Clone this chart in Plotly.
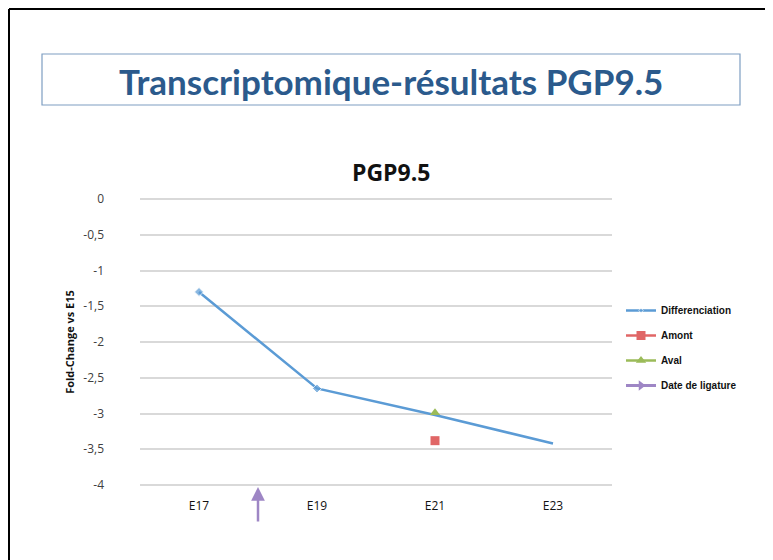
import plotly.graph_objects as go

categories = ["E17", "E19", "E21", "E23"]
diff_values = [-1.3, -2.65, -3.02, -3.42]
diff_marker_sizes = [7, 7, 0, 0]
amont_cat = ["E21"]
amont_values = [-3.38]
aval_cat = ["E21"]
aval_values = [-2.99]
ligature_pos = 0.5  # between E17 and E19 (category index)
ytick_vals = [0, -0.5, -1, -1.5, -2, -2.5, -3, -3.5, -4]
ytick_text = ["0", "-0,5", "-1", "-1,5", "-2", "-2,5", "-3", "-3,5", "-4"]

fig = go.Figure()
fig.add_trace(go.Scatter(
    x=categories, y=diff_values, name="<b>Differenciation</b>", mode="lines+markers",
    line=dict(color="#5B9BD5", width=2.5),
    marker=dict(symbol="diamond", size=diff_marker_sizes, color="#5B9BD5"),
    legendgroup="a"))
fig.add_trace(go.Scatter(
    x=amont_cat, y=amont_values, name="<b>Amont</b>", mode="lines+markers",
    line=dict(color="#E06666", width=2.5),
    marker=dict(symbol="square", size=9, color="#E06666"),
    legendgroup="b"))
fig.add_trace(go.Scatter(
    x=aval_cat, y=aval_values, name="<b>Aval</b>", mode="lines+markers",
    line=dict(color="#9BBB59", width=2.5),
    marker=dict(symbol="triangle-up", size=9, color="#9BBB59"),
    legendgroup="c"))
fig.add_trace(go.Scatter(
    x=[None], y=[None], name="<b>Date de ligature</b>", mode="lines+markers",
    line=dict(color="#9E86C5", width=3),
    marker=dict(symbol="triangle-right", size=9, color="#9E86C5"),
    legendgroup="d"))

OFF = 8  # page body offset
W, H = 773 - OFF, 560 - OFF
# plot area in screen pixels: x 140..612, y 197..487 (0 at 199, -4 at 485)
L = 140 - OFF
T = 197 - OFF
R = W - (612 - OFF)
B = H - (487 - OFF)
pw, ph = W - L - R, H - T - B

def px(x):
    return (x - OFF - L) / pw

def py(y):
    return (H - B - (y - OFF)) / ph

shapes = [
    # slide border
    dict(type="line", xref="paper", yref="paper", x0=px(9), x1=px(790), y0=py(9), y1=py(9),
         line=dict(color="black", width=2)),
    dict(type="line", xref="paper", yref="paper", x0=px(9), x1=px(9), y0=py(9), y1=py(580),
         line=dict(color="black", width=2)),
    # title box
    dict(type="rect", xref="paper", yref="paper", x0=px(42), x1=px(740), y0=py(105), y1=py(54),
         line=dict(color="#7E9EC2", width=1.2), fillcolor="rgba(0,0,0,0)"),
]

annotations = [
    dict(text="<b>Transcriptomique-résultats PGP9.5</b>", xref="paper", yref="paper",
         x=px(391), y=py(81), showarrow=False, xanchor="center", yanchor="middle",
         font=dict(family="Lato", size=35, color="#2B5A8C")),
    dict(text="<b>PGP9.5</b>", xref="paper", yref="paper",
         x=px(391), y=py(172), showarrow=False, xanchor="center", yanchor="middle",
         font=dict(family="Open Sans", size=23, color="#111111")),
    dict(x=ligature_pos, y=py(487), xref="x", yref="paper", ax=0, ay=36,
         showarrow=True, arrowhead=2, arrowsize=1.1, arrowwidth=2.5,
         arrowcolor="#9E86C5", text=""),
]

fig.update_layout(
    width=W, height=H,
    margin=dict(l=L, r=R, t=T, b=B),
    paper_bgcolor="white", plot_bgcolor="white",
    font=dict(family="Open Sans", color="#333333"),
    shapes=shapes, annotations=annotations,
    showlegend=True,
    legend=dict(x=px(621), y=py(296), xanchor="left", yanchor="top",
                font=dict(family="Liberation Sans", size=10, color="#111111"),
                tracegroupgap=6, itemwidth=30, bgcolor="rgba(0,0,0,0)"),
)
fig.update_xaxes(
    type="category", categoryorder="array", categoryarray=categories,
    range=[-0.5, 3.5], showgrid=False, zeroline=False, showline=False,
    ticks="", ticklabelstandoff=10,
    tickfont=dict(family="Open Sans", size=12, color="#111111"),
)
fig.update_yaxes(
    range=[-4.028, 0.028], tickvals=ytick_vals, ticktext=ytick_text,
    showgrid=True, gridcolor="#D9D9D9", gridwidth=1.5, zeroline=False, showline=False,
    ticks="", ticklabelstandoff=35,
    tickfont=dict(family="Open Sans", size=12, color="#404040"),
    title=dict(text="<b>Fold-Change vs E15</b>", standoff=6,
               font=dict(family="Open Sans", size=11, color="#111111")),
)

fig.write_html("out.html")
